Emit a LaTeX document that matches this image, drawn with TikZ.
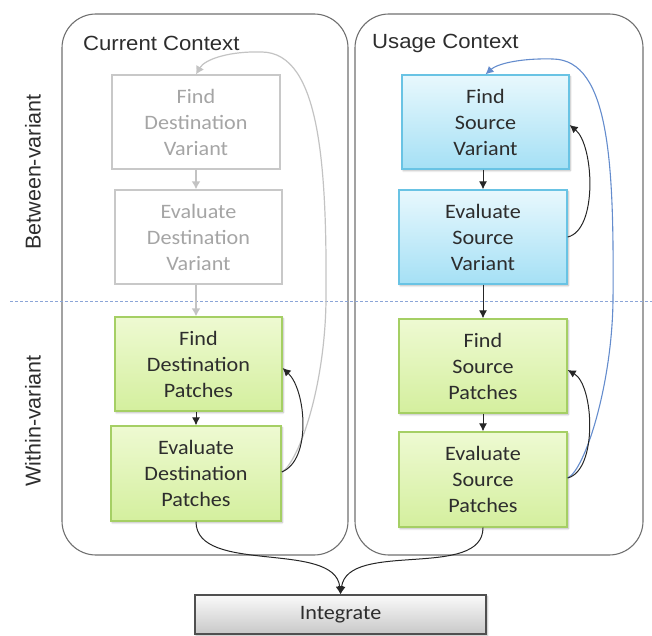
\documentclass[tikz,border=0pt]{standalone}
\usepackage{fontspec}
\setmainfont{Carlito}[FakeStretch=1.08]
\newfontfamily\headfont{Liberation Sans}[FakeStretch=1.08]
\newfontfamily\sidefont{Liberation Sans}
\usetikzlibrary{arrows.meta,shadows.blur}

\definecolor{frameline}{RGB}{112,112,112}
\definecolor{txt}{RGB}{45,45,45}
\definecolor{fadeline}{RGB}{200,200,200}
\definecolor{fadetxt}{RGB}{165,165,165}
\definecolor{fadearrow}{RGB}{195,195,195}
\definecolor{bluetop}{RGB}{232,248,253}
\definecolor{bluebot}{RGB}{165,224,245}
\definecolor{blueline}{RGB}{105,195,228}
\definecolor{greentop}{RGB}{238,250,210}
\definecolor{greenbot}{RGB}{212,239,158}
\definecolor{greenline}{RGB}{165,207,100}
\definecolor{greytop}{RGB}{250,250,250}
\definecolor{greybot}{RGB}{200,200,200}
\definecolor{greyline}{RGB}{80,80,80}
\definecolor{bandline}{RGB}{140,165,215}
\definecolor{loopblue}{RGB}{100,140,205}

\tikzset{
  frame/.style={draw=frameline, line width=1.1pt, rounded corners=34pt},
  boxtext/.style={align=center, inner sep=0pt, text=txt,
    font=\fontsize{20.5}{26}\selectfont},
  fadebox/.style={boxtext, draw=fadeline, line width=1.4pt, fill=white,
    text=fadetxt},
  shade/.style={blur shadow={shadow xshift=1.2pt, shadow yshift=-1.6pt,
    shadow blur steps=6, shadow opacity=30}},
  bluebox/.style={boxtext, shade, draw=blueline, line width=1.3pt,
    top color=bluetop, bottom color=bluebot},
  greenbox/.style={boxtext, shade, draw=greenline, line width=1.3pt,
    top color=greentop, bottom color=greenbot},
  greybox/.style={boxtext, shade, draw=greyline, line width=1.3pt,
    top color=greytop, bottom color=greybot},
  flow/.style={line width=1pt, draw=black!85,
    -{Latex[length=8pt,width=8pt]}},
  fadeflow/.style={line width=1.6pt, draw=fadearrow,
    -{Latex[length=8pt,width=9pt]}},
  headlabel/.style={anchor=west, inner sep=0pt, text=txt,
    font=\headfont\fontsize{20.5}{24}\selectfont},
  sidelabel/.style={rotate=90, inner sep=0pt, text=txt,
    font=\sidefont\fontsize{21.5}{24}\selectfont},
}

\begin{document}
\begin{tikzpicture}[x=1pt,y=1pt]
\useasboundingbox (0,0) rectangle (652,635);

% the two context panels
\draw[frame] (62,80) rectangle (348,621);
\draw[frame] (355,80) rectangle (643,621);

% border between the two kinds of search
\draw[bandline, line width=0.8pt, dash pattern=on 3pt off 2pt] (10,334) -- (652,334);

\node[headlabel] (cur) at (83,592) {Current Context};
\node[headlabel] (use) at (372,592) {Usage Context};

\node[sidelabel] (between) at (33,463) {Between-variant};
\node[sidelabel] (within) at (33,214) {Within-variant};

% current context steps
\node[fadebox, minimum width=168pt, minimum height=94pt] (fdv) at (196,513)
  {Find\\Destination\\Variant};
\node[fadebox, minimum width=167pt, minimum height=94pt] (edv) at (198.5,398)
  {Evaluate\\Destination\\Variant};
\node[greenbox, minimum width=167pt, minimum height=94pt] (fdp) at (198.5,271)
  {Find\\Destination\\Patches};
\node[greenbox, minimum width=170pt, minimum height=95pt] (edp) at (196,161.5)
  {Evaluate\\Destination\\Patches};

% usage context steps
\node[bluebox, minimum width=167pt, minimum height=94pt] (fsv) at (485.5,513)
  {Find\\Source\\Variant};
\node[bluebox, minimum width=168pt, minimum height=94pt] (esv) at (483,398)
  {Evaluate\\Source\\Variant};
\node[greenbox, minimum width=168pt, minimum height=94pt] (fsp) at (483,269)
  {Find\\Source\\Patches};
\node[greenbox, minimum width=168pt, minimum height=95pt] (esp) at (483,155.5)
  {Evaluate\\Source\\Patches};

\node[greybox, minimum width=291pt, minimum height=39pt] (int) at (340.5,20.5)
  {Integrate};

% straight steps
\draw[fadeflow] (fdv.south) -- (fdv.south |- edv.north);
\draw[fadeflow] (fdv.south |- edv.south) -- (fdv.south |- fdp.north);
\draw[flow] (fdp.south -| edp.north) -- (edp.north);
\draw[flow] (fsv.south -| esv.north) -- (esv.north);
\draw[flow] (esv.south) -- (fsp.north);
\draw[flow] (fsp.south) -- (esp.north);

% loops back within a panel
\coordinate (gA) at (326,335);
\coordinate (gB) at (262,583);
\draw[fadeflow, line width=1.2pt] ([yshift=1pt]edp.east)
  .. controls (300,175) and (325,250) .. (gA)
  .. controls (327,470) and (320,582) .. (gB)
  .. controls (230,584) and (205,576) .. (fdv.north);

\coordinate (bA) at (613,335);
\coordinate (bB) at (553,576);
\draw[flow, draw=loopblue, line width=1.1pt] ([yshift=1.5pt]esp.east)
  .. controls (585,165) and (612,250) .. (bA)
  .. controls (614,470) and (610,575) .. (bB)
  .. controls (520,577) and (497,571) .. (fsv.north);

\draw[flow] ([yshift=1.5pt]edp.east) .. controls (312,175) and (306,245) .. ([yshift=-4pt]fdp.east);
\draw[flow] (esv.east) .. controls (598,405) and (594,490) .. ([yshift=-3pt]fsv.east);
\draw[flow] ([yshift=1.5pt]esp.east) .. controls (598,165) and (594,250) .. ([yshift=-4pt]fsp.east);

% both searches feed the integration step
\draw[flow] (edp.south) .. controls (196,60) and (335,95) .. (int.north);
\draw[flow] (esp.south) .. controls (483,55) and (348,95) .. (int.north);
\end{tikzpicture}
\end{document}
